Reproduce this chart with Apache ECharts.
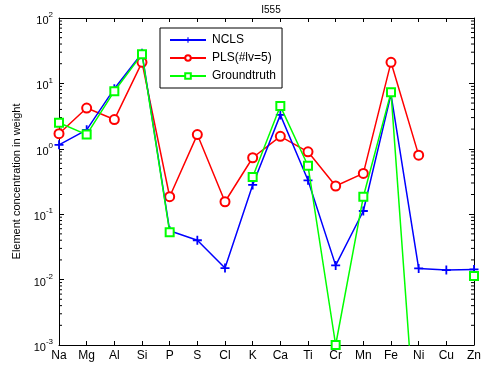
<!DOCTYPE html>
<html>
<head>
<meta charset="utf-8">
<script src="https://cdn.jsdelivr.net/npm/echarts@6/dist/echarts.min.js"></script>
<style>
  html, body { margin: 0; padding: 0; background: #fff; }
  #chart { width: 484px; height: 367px; }
</style>
</head>
<body>
<div id="chart"></div>
<script>
const categories = ['Na', 'Mg', 'Al', 'Si', 'P', 'S', 'Cl', 'K', 'Ca', 'Ti', 'Cr', 'Mn', 'Fe', 'Ni', 'Cu', 'Zn'];
const nclsValues = [1.15, 1.95, 8.3, 29, 0.056, 0.04, 0.015, 0.28, 3.3, 0.33, 0.0165, 0.112, 6.8, 0.0148, 0.014, 0.0143];
const plsValues = [1.7, 4.2, 2.8, 21, 0.185, 1.65, 0.155, 0.73, 1.55, 0.9, 0.27, 0.42, 21, 0.8, null, null];
// Ni sits far below the axis floor (line runs off the bottom)
const truthValues = [2.5, 1.65, 7.6, 28, 0.053, null, null, 0.37, 4.5, 0.55, 0.001, 0.185, 7.3, 0.00001, null, 0.0114];
const decades = [-3, -2, -1, 0, 1, 2];

const font = "'Liberation Sans', Arial, sans-serif";
const minorTicks = [];
decades.slice(0, -1).forEach(e => {
  for (let m = 2; m <= 9; m++) minorTicks.push([0, m * Math.pow(10, e)]);
});

const plusPath = 'path://M4,0H6V4H10V6H6V10H4V6H0V4H4Z';

const chart = echarts.init(document.getElementById('chart'), null, { renderer: 'canvas' });

const axisLine = { show: true, lineStyle: { color: '#000', width: 1 } };
const logAxis = {
  type: 'log',
  logBase: 10,
  min: 0.001,
  max: 100,
  axisLine: axisLine,
  axisTick: { show: true, inside: true, length: 5, lineStyle: { color: '#000' } },
  splitLine: { show: false },
};

chart.setOption({
  animation: false,
  backgroundColor: '#fff',
  textStyle: { fontFamily: font },
  title: {
    text: 'I555',
    left: 266,
    textAlign: 'center',
    top: 0,
    textStyle: { fontSize: 10, fontWeight: 'normal', color: '#000', fontFamily: font },
  },
  grid: { left: 59, right: 10, top: 18, bottom: 22, containLabel: false },
  legend: {
    orient: 'vertical',
    left: 160,
    top: 28,
    padding: [6, 6, 6, 9],
    itemWidth: 36,
    itemHeight: 7,
    itemGap: 6,
    borderColor: '#000',
    borderWidth: 1,
    backgroundColor: '#fff',
    textStyle: { fontSize: 12, lineHeight: 12, color: '#000', fontFamily: font, padding: [0, 0, 0, 1] },
    data: ['NCLS', 'PLS(#lv=5)', 'Groundtruth'],
  },
  xAxis: [
    {
      type: 'category',
      data: categories,
      boundaryGap: false,
      axisLine: axisLine,
      axisTick: { show: true, inside: true, length: 4, alignWithLabel: true, lineStyle: { color: '#000' } },
      axisLabel: { color: '#000', fontSize: 12, fontFamily: font, margin: 5, interval: 0 },
    },
    {
      type: 'category',
      data: categories,
      position: 'top',
      boundaryGap: false,
      axisLine: axisLine,
      axisTick: { show: true, inside: true, length: 4, lineStyle: { color: '#000' } },
      axisLabel: { show: false },
    },
  ],
  yAxis: [
    Object.assign({}, logAxis, {
      name: 'Element concentration in weight',
      nameLocation: 'middle',
      nameGap: 34,
      nameTextStyle: { color: '#000', fontSize: 11, fontFamily: font },
      axisLabel: {
        color: '#000',
        margin: 6,
        formatter: v => '{b|10}{s|' + Math.round(Math.log10(v)) + '}',
        rich: {
          b: { fontSize: 11, color: '#000', fontFamily: font, padding: [6, 0, 0, 0] },
          s: { fontSize: 8, color: '#000', fontFamily: font, padding: [0, 0, 6, 0] },
        },
      },
    }),
    Object.assign({}, logAxis, { position: 'right', axisLabel: { show: false } }),
  ],
  series: [
    {
      type: 'custom',
      silent: true,
      xAxisIndex: 0,
      yAxisIndex: 0,
      data: minorTicks,
      renderItem: (params, api) => {
        const y = api.coord([0, api.value(1)])[1];
        const cs = params.coordSys;
        const style = { stroke: '#000', lineWidth: 1 };
        return {
          type: 'group',
          children: [
            { type: 'line', shape: { x1: cs.x, y1: y, x2: cs.x + 3, y2: y }, style: style },
            { type: 'line', shape: { x1: cs.x + cs.width, y1: y, x2: cs.x + cs.width - 3, y2: y }, style: style },
          ],
        };
      },
    },
    {
      name: 'NCLS',
      type: 'line',
      data: nclsValues,
      symbol: plusPath,
      symbolSize: 9,
      lineStyle: { color: '#0000ff', width: 1.5 },
      itemStyle: { color: '#0000ff' },
      z: 3,
    },
    {
      name: 'PLS(#lv=5)',
      type: 'line',
      data: plsValues,
      symbol: 'emptyCircle',
      symbolSize: 9,
      lineStyle: { color: '#ff0000', width: 1.5 },
      itemStyle: { color: '#ff0000', borderWidth: 1.5 },
      z: 2,
    },
    {
      name: 'Groundtruth',
      type: 'line',
      data: truthValues,
      symbol: 'emptyRect',
      symbolSize: 8,
      lineStyle: { color: '#00ff00', width: 1.5 },
      itemStyle: { color: '#00ff00', borderWidth: 1.5 },
      z: 4,
    },
  ],
});
</script>
</body>
</html>
